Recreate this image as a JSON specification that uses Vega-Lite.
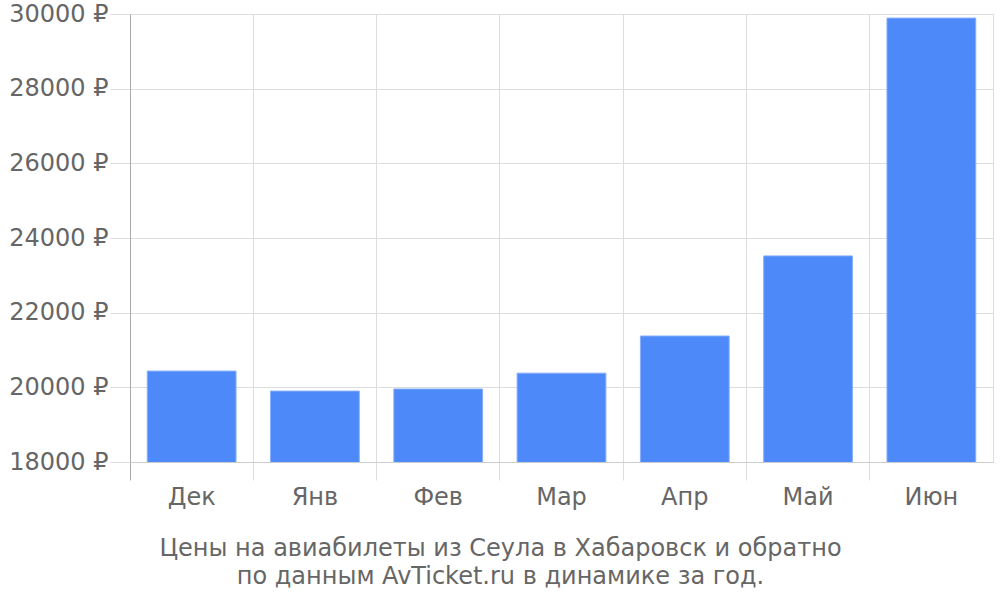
{
  "$schema": "https://vega.github.io/schema/vega-lite/v6.json",
  "autosize": "none",
  "width": 863,
  "height": 448,
  "padding": {"left": 130, "top": 14, "right": 7, "bottom": 138},
  "background": "white",
  "config": {
    "font": "DejaVu Sans",
    "view": {"stroke": "#dddddd", "strokeWidth": 1}
  },
  "data": {
    "values": [
      {"month": "Дек", "price": 20435},
      {"month": "Янв", "price": 19900},
      {"month": "Фев", "price": 19955},
      {"month": "Мар", "price": 20380},
      {"month": "Апр", "price": 21375},
      {"month": "Май", "price": 23520},
      {"month": "Июн", "price": 29890}
    ]
  },
  "mark": {"type": "bar", "clip": true, "width": {"band": 0.72}, "fill": "#4d89f9", "stroke": "#86aefb", "strokeWidth": 1},
  "encoding": {
    "x": {
      "field": "month",
      "type": "nominal",
      "sort": null,
      "scale": {"paddingInner": 0, "paddingOuter": 0},
      "axis": {
        "bandPosition": 0,
        "title": ["Цены на авиабилеты из Сеула в Хабаровск и обратно", "по данным AvTicket.ru в динамике за год."],
        "titleFont": "DejaVu Sans",
        "titleFontSize": 24,
        "titleFontWeight": "normal",
        "titleColor": "#666666",
        "titleLineHeight": 28,
        "titlePadding": 27,
        "titleX": 370,
        "labelAngle": 0,
        "labelFontSize": 24,
        "labelColor": "#666666",
        "labelPadding": 5,
        "labelAlign": "center",
        "labelBound": false,
        "labelFlush": false,
        "grid": true,
        "gridColor": "#dddddd",
        "tickSize": 18,
        "tickColor": {"condition": {"test": "datum.value === 'Дек'", "value": "#aaaaaa"}, "value": "#dddddd"},
        "domainColor": "#cccccc"
      }
    },
    "y": {
      "field": "price",
      "type": "quantitative",
      "scale": {"domain": [18000, 30000], "nice": false, "zero": false},
      "axis": {
        "title": null,
        "values": [18000, 20000, 22000, 24000, 26000, 28000, 30000],
        "labelExpr": "format(datum.value, 'd') + ' ₽'",
        "labelFontSize": 24,
        "labelColor": "#666666",
        "labelPadding": 2,
        "tickSize": 20,
        "tickColor": "#dddddd",
        "grid": true,
        "gridColor": "#dddddd",
        "domainColor": "#aaaaaa"
      }
    }
  }
}
